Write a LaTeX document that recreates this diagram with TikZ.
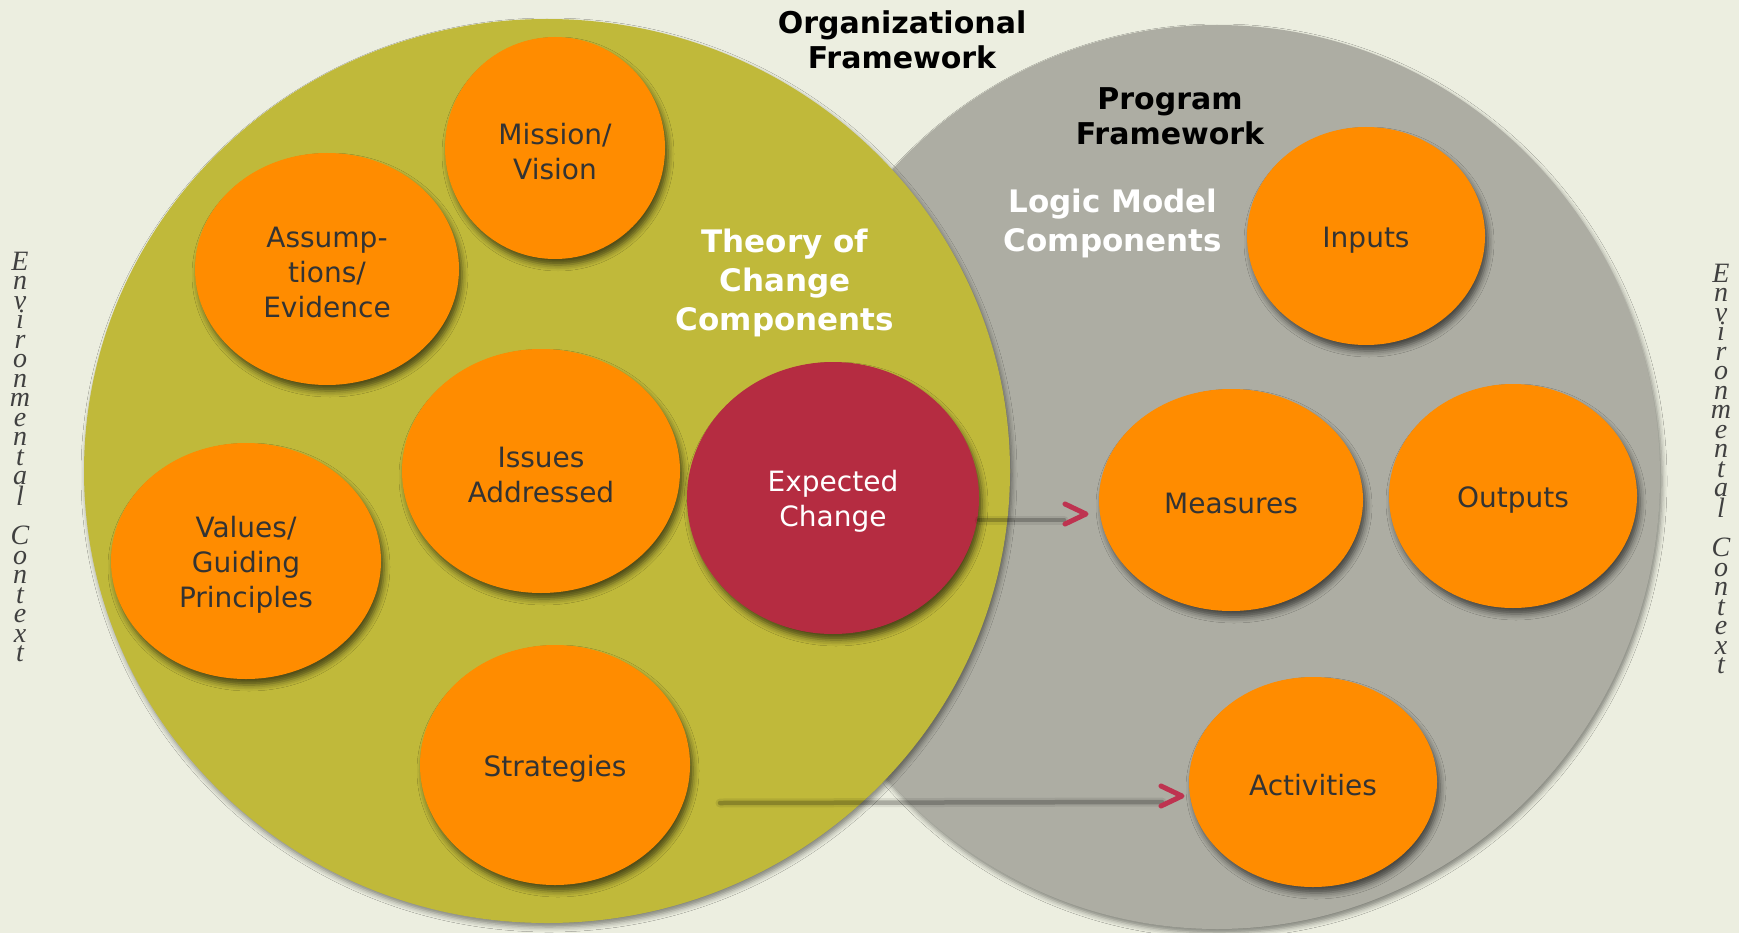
\documentclass[tikz,border=0pt]{standalone}
\usepackage{fontspec}
\setmainfont{DejaVu Sans}
\newfontfamily\ctxfont{Liberation Serif}
\usetikzlibrary{shapes.geometric,shadows.blur}
\definecolor{bgc}{HTML}{ECEEE0}
\definecolor{grn}{HTML}{C0B93A}
\definecolor{gry}{HTML}{ADADA3}
\definecolor{orng}{HTML}{FF8C00}
\definecolor{redc}{HTML}{B52C41}
\definecolor{chevc}{HTML}{BE3350}
\definecolor{txt}{HTML}{333333}
\newcommand\tsup{\rule{0pt}{28pt}}
\begin{document}
\begin{tikzpicture}[x=1pt,y=-1pt,
  bigc/.style={ellipse, inner sep=0pt, draw=none,
    blur shadow={shadow xshift=2pt, shadow yshift=-4pt, shadow blur radius=5pt, shadow opacity=45}},
  blob/.style={ellipse, inner sep=0pt, fill=orng, text=txt, align=center,
    font=\fontsize{28}{35}\selectfont,
    blur shadow={shadow xshift=3pt, shadow yshift=-6pt, shadow blur radius=6pt, shadow opacity=60}},
  head/.style={align=center, font=\bfseries\fontsize{30}{35}\selectfont, text=black, inner sep=0pt},
  whead/.style={align=center, font=\bfseries\fontsize{31}{39}\selectfont, text=white, inner sep=0pt},
  ctx/.style={align=center, font=\ctxfont\itshape\fontsize{28}{19.5}\selectfont, text=black!75, inner sep=0pt},
  connhalo/.style={draw=black, draw opacity=0.08, line width=9pt, line cap=round},
  conn/.style={draw=black, draw opacity=0.22, line width=4.5pt, line cap=round},
  chev/.style={draw=chevc, line width=5pt, line cap=round, line join=round}
]
\path[use as bounding box, fill=bgc] (0,0) rectangle (1739,933);

% big frameworks
\node[bigc, fill=gry, minimum width=886pt, minimum height=904pt] (pf) at (1217,477) {};
\node[bigc, fill=grn, minimum width=926pt, minimum height=904pt] (of) at (547,471) {};

% headings
\node[head] (hof) at (902,40) {Organizational\\Framework};
\node[head] (hpf) at (1170,116) {Program\\Framework};
\node[whead] (htc) at (785,283) {Theory of\\Change\\Components};
\node[whead] (hlm) at (1113,223) {Logic Model\\Components};

% theory of change components
\node[blob, minimum width=220pt, minimum height=222pt] (ms) at (555,148) {\tsup Mission/\\Vision};
\node[blob, minimum width=264pt, minimum height=232pt] (as) at (327,269) {\tsup Assump-\\tions/\\Evidence};
\node[blob, minimum width=278pt, minimum height=244pt] (ia) at (541,471) {\tsup Issues\\Addressed};
\node[blob, minimum width=270pt, minimum height=236pt] (vg) at (246,561) {\tsup Values/\\Guiding\\Principles};
\node[blob, minimum width=270pt, minimum height=240pt] (st) at (555,765) {\tsup Strategies};

% connectors
\coordinate (l1) at (1064,520);
\coordinate (t1) at (1086,514);
\coordinate (s2) at (720,803);
\coordinate (l2) at (1162,802);
\coordinate (t2) at (1182,796);
\draw[connhalo] (s2) -- (l2);
\draw[conn] (s2) -- (l2);

\node[blob, fill=redc, text=white, minimum width=292pt, minimum height=272pt] (ec) at (833,498) {\tsup Expected\\Change};

\draw[connhalo] (ec.east |- l1) -- (l1);
\draw[conn] (ec.east |- l1) -- (l1);

% logic model components
\node[blob, minimum width=238pt, minimum height=218pt] (in) at (1366,236) {\tsup Inputs};
\node[blob, minimum width=264pt, minimum height=222pt] (me) at (1231,500) {\tsup Measures};
\node[blob, minimum width=248pt, minimum height=224pt] (ou) at (1513,496) {\tsup Outputs};
\node[blob, minimum width=248pt, minimum height=210pt] (ac) at (1313,782) {\tsup Activities};

% chevron heads
\draw[chev] ([shift={(-21pt,10pt)}]t1) -- (t1) -- ([shift={(-21pt,-10pt)}]t1);
\draw[chev] ([shift={(-21pt,10pt)}]t2) -- (t2) -- ([shift={(-21pt,-10pt)}]t2);

% environmental context
\node[ctx] (lctx) at (20,457) {E\\n\\v\\i\\r\\o\\n\\m\\e\\n\\t\\a\\l\\~\\C\\o\\n\\t\\e\\x\\t};
\node[ctx] (rctx) at (1721,469) {E\\n\\v\\i\\r\\o\\n\\m\\e\\n\\t\\a\\l\\~\\C\\o\\n\\t\\e\\x\\t};
\end{tikzpicture}
\end{document}
